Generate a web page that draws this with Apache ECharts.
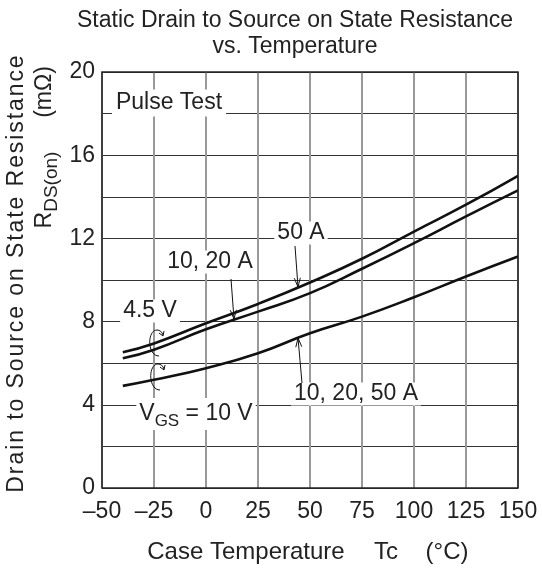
<!DOCTYPE html>
<html><head><meta charset="utf-8">
<script src="https://cdn.jsdelivr.net/npm/echarts@6/dist/echarts.min.js"></script>
<style>html,body{margin:0;padding:0;background:#fff}#c{width:542px;height:570px}</style>
</head><body><div id="c"></div>
<script>
var temps = [-40, -25, 0, 25, 50, 75, 100, 125, 150];
var vgs45_50A = [6.53, 6.95, 7.92, 8.85, 9.88, 11.02, 12.33, 13.62, 15.01];
var vgs45_1020A = [6.24, 6.65, 7.63, 8.48, 9.37, 10.54, 11.77, 13.06, 14.31];
var vgs10_all = [4.91, 5.2, 5.76, 6.48, 7.44, 8.24, 9.17, 10.17, 11.13];
var xTicks = [-50, -25, 0, 25, 50, 75, 100, 125, 150];
var yTicks = [0, 4, 8, 12, 16, 20];

var FF = '"Liberation Sans", Arial, sans-serif';
var TC = '#222';
function spaced(s){ return s.split('').join('\u200A'); }
function pairs(xs, ys){ return xs.map(function(x,i){return [x, ys[i]];}); }
function lineSeries(vals){
  return {type:'line', data:pairs(temps, vals), smooth:true, showSymbol:false, symbol:'none',
    lineStyle:{color:'#111', width:2.6}, z:5, animation:false};
}
function arrow(x1,y1,x2,y2){
  var dx=x2-x1, dy=y2-y1, L=Math.sqrt(dx*dx+dy*dy), ux=dx/L, uy=dy/L;
  var hl=9, hw=3;
  return [
    {type:'line', shape:{x1:x1,y1:y1,x2:x2,y2:y2}, style:{stroke:'#111', lineWidth:1}, z:20},
    {type:'polyline', shape:{points:[[x2-ux*hl-uy*hw, y2-uy*hl+ux*hw],[x2,y2],[x2-ux*hl+uy*hw, y2-uy*hl-ux*hw]]}, style:{stroke:'#111', lineWidth:1, fill:null}, z:20}
  ];
}
function label(t, cx, cy){
  return {type:'text', x:cx, y:cy, z:15, style:{text:t, font:'23px '+FF, fill:TC, align:'center', verticalAlign:'middle', backgroundColor:'#fff', padding:[0,3]}};
}
function curl(cx, cy){
  return [
    {type:'bezierCurve', shape:{x1:cx+3, y1:cy+13, cpx1:cx-9, cpy1:cy+13, cpx2:cx-9, cpy2:cy-13, x2:cx+1, y2:cy-13}, style:{stroke:'#111', lineWidth:1, fill:null}, z:20},
    {type:'bezierCurve', shape:{x1:cx+1, y1:cy-13, cpx1:cx+4, cpy1:cy-13, cpx2:cx+6, cpy2:cy-11, x2:cx+7, y2:cy-8}, style:{stroke:'#111', lineWidth:1, fill:null}, z:20},
    {type:'polyline', shape:{points:[[cx+3,cy-10],[cx+7,cy-7],[cx+8,cy-12]]}, style:{stroke:'#111', lineWidth:1, fill:null}, z:20}
  ];
}

var graphics = [
  {type:'text', x:295, y:21, style:{text:'Static Drain to Source on State Resistance', font:'23px '+FF, fill:TC, align:'center', verticalAlign:'middle'}},
  {type:'text', x:295, y:47, style:{text:'vs. Temperature', font:'23px '+FF, fill:TC, align:'center', verticalAlign:'middle'}},
  {type:'text', x:246, y:552, style:{text:'Case Temperature', font:'24px '+FF, fill:TC, align:'center', verticalAlign:'middle'}},
  {type:'text', x:386, y:552, style:{text:'Tc', font:'24px '+FF, fill:TC, align:'center', verticalAlign:'middle'}},
  {type:'text', x:447, y:552, style:{text:'(\u00B0C)', font:'24px '+FF, fill:TC, align:'center', verticalAlign:'middle'}},
  {type:'text', x:17, y:274, rotation:Math.PI/2, style:{text:spaced('Drain to Source on State Resistance'), font:'23px '+FF, fill:TC, align:'center', verticalAlign:'middle'}},
  {type:'text', x:45, y:92, rotation:Math.PI/2, style:{text:'(m\u03A9)', font:'23px '+FF, fill:TC, align:'center', verticalAlign:'middle'}},
  {type:'text', x:45, y:190, rotation:Math.PI/2, style:{text:'{a|R}{b|DS(on)}', fill:TC, align:'center', verticalAlign:'middle',
     rich:{a:{fontSize:23, fontFamily:FF, fill:TC, lineHeight:32, verticalAlign:'middle'}, b:{fontSize:19, fontFamily:FF, fill:TC, lineHeight:32, verticalAlign:'bottom'}}}},
  {type:'text', x:169, y:103, z:15, style:{text:'Pulse Test', font:'23px '+FF, fill:TC, align:'center', verticalAlign:'middle', backgroundColor:'#fff', padding:[2,4]}},
  label('50 A', 301, 233),
  label('10, 20 A', 210, 262),
  label('4.5 V', 150, 311),
  label('10, 20, 50 A', 356, 394),
  {type:'text', x:196, y:414, z:15, style:{text:'{a|V}{b|GS}{a| = 10 V}', fill:TC, align:'center', verticalAlign:'middle', backgroundColor:'#fff', padding:[0,3],
     rich:{a:{fontSize:23, fontFamily:FF, fill:TC, lineHeight:32, verticalAlign:'middle'}, b:{fontSize:17, fontFamily:FF, fill:TC, lineHeight:32, verticalAlign:'bottom'}}}}
];
graphics = graphics.concat(arrow(295,246,298,287), arrow(231,279,234,319), arrow(302,383,298,338), curl(156,343), curl(157,377));

var chart = echarts.init(document.getElementById('c'), null, {renderer:'canvas'});
chart.setOption({
  animation:false,
  backgroundColor:'#fff',
  grid:{left:102, right:24, top:72, bottom:82, show:true, borderColor:'#222', borderWidth:1.5, z:10},
  xAxis:{type:'value', min:-50, max:150, interval:25,
    axisLine:{show:false}, axisTick:{show:false},
    splitLine:{show:true, lineStyle:{color:'#999', width:2}},
    axisLabel:{margin:12, fontSize:23, fontFamily:FF, color:TC,
      formatter:function(v){ return xTicks.indexOf(v)>=0 ? String(v).replace('-', '\u2013') : ''; }}},
  yAxis:{type:'value', min:0, max:20, interval:2,
    axisLine:{show:false}, axisTick:{show:false},
    splitLine:{show:true, lineStyle:{color:'#333', width:1}},
    axisLabel:{margin:7, fontSize:23, fontFamily:FF, color:TC,
      formatter:function(v){ return yTicks.indexOf(v)>=0 ? String(v) : ''; }}},
  series:[lineSeries(vgs45_50A), lineSeries(vgs45_1020A), lineSeries(vgs10_all)],
  graphic:graphics
});
</script></body></html>
